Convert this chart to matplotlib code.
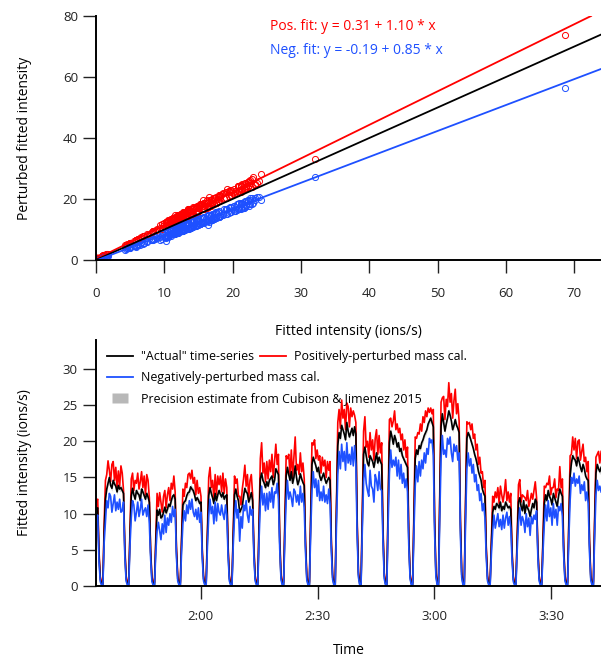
import numpy as np
import matplotlib
matplotlib.use('Agg')
import matplotlib.pyplot as plt
from matplotlib.lines import Line2D

plt.rcParams['font.family'] = ['Open Sans', 'DejaVu Sans']
plt.rcParams['font.size'] = 9.5

RED = '#ff0000'
BLUE = '#1e50ff'

# fit coefficients (intercept, slope) shown on the scatter panel
fit_pos = (0.31, 1.10)
fit_neg = (-0.19, 0.85)
one_to_one = (0.0, 1.0)

# time series (ions/s), one sample every 0.3315 min starting at 1:32.9
T_START = 92.88
SAMPLE_MIN = 0.3315

actual_lead = [11.0, 10.6, 10.8]
pos_lead = [12.2, 11.6, 12.0]
neg_lead = [9.6, 9.2, 9.8]

# one row per switching cycle: the drop to ~0, then the ambient plateau
actual_cycles = [
    [4.2, 0.9, 0.3, 0.2, 7.5, 12.0, 13.4, 14.2, 15.0, 13.9, 13.5, 14.6, 14.1, 13.8, 13.0, 13.9, 13.4, 13.6, 13.2, 12.8],
    [5.0, 1.0, 0.3, 0.2, 7.0, 12.4, 13.5, 12.6, 12.0, 13.2, 12.8, 12.6, 11.8, 13.4, 13.0, 12.5, 12.0, 12.8, 12.3, 11.6],
    [4.6, 0.9, 0.3, 0.2, 5.8, 10.5, 9.8, 10.6, 9.4, 9.6, 10.2, 10.9, 10.1, 10.6, 11.3, 11.0, 11.8, 12.4, 12.6, 12.0],
    [4.8, 1.0, 0.3, 0.2, 6.2, 11.2, 11.6, 11.8, 12.5, 12.9, 13.0, 13.7, 13.4, 13.2, 12.6, 11.8, 12.2, 11.9, 11.4, 11.6],
    [4.6, 1.0, 0.3, 0.2, 6.9, 12.5, 13.6, 12.8, 12.2, 11.4, 12.8, 11.8, 12.6, 13.2, 12.7, 12.3, 12.9, 12.0, 12.4, 12.6],
    [5.0, 1.0, 0.3, 0.2, 7.0, 12.6, 13.4, 12.4, 11.8, 10.2, 10.6, 11.0, 12.4, 13.5, 13.0, 12.8, 11.6, 12.2, 12.9, 11.8],
    [4.8, 1.0, 0.3, 0.2, 8.0, 14.8, 15.6, 14.6, 14.2, 13.6, 14.4, 13.8, 14.6, 14.9, 15.2, 14.0, 14.6, 16.2, 15.8, 15.4],
    [6.2, 1.2, 0.3, 0.2, 8.2, 15.2, 16.4, 15.4, 14.6, 15.8, 14.2, 15.0, 16.6, 15.0, 14.0, 14.6, 15.5, 14.8, 14.3, 13.9],
    [5.6, 1.1, 0.3, 0.2, 9.0, 16.8, 17.8, 17.2, 16.6, 15.8, 16.4, 15.2, 14.6, 15.1, 15.6, 14.8, 14.2, 14.6, 15.0, 14.6],
    [5.8, 1.2, 0.3, 0.2, 10.8, 19.4, 21.2, 20.4, 22.2, 21.6, 21.0, 20.2, 22.6, 21.4, 20.6, 21.2, 21.8, 20.8, 22.0, 21.0],
    [8.4, 1.6, 0.3, 0.2, 9.6, 18.2, 19.2, 18.0, 17.0, 16.6, 18.0, 17.6, 17.2, 16.4, 17.4, 18.4, 17.0, 17.8, 17.2, 16.8],
    [7.4, 1.4, 0.3, 0.2, 10.6, 19.8, 21.4, 20.6, 19.6, 20.8, 20.2, 19.2, 19.8, 18.6, 19.0, 18.0, 17.6, 17.2, 16.8, 16.4],
    [6.6, 1.3, 0.3, 0.2, 9.4, 17.6, 18.8, 18.2, 19.4, 19.0, 19.8, 20.2, 20.8, 21.2, 21.6, 22.4, 22.8, 23.2, 22.6, 22.0],
    [8.8, 1.7, 0.3, 0.2, 11.8, 22.0, 23.8, 22.6, 21.4, 22.4, 23.2, 24.2, 23.6, 22.8, 21.6, 22.2, 23.0, 22.2, 21.8, 21.2],
    [8.4, 1.6, 0.3, 0.2, 11.0, 20.4, 21.2, 20.8, 20.2, 19.6, 19.0, 18.2, 17.6, 16.8, 15.8, 15.2, 14.6, 13.4, 12.8, 12.4],
    [5.0, 1.0, 0.3, 0.2, 5.8, 10.2, 11.0, 10.6, 11.4, 11.2, 10.8, 11.6, 10.4, 11.0, 10.6, 11.6, 11.2, 10.8, 11.0, 10.6],
    [4.4, 0.9, 0.3, 0.2, 6.4, 11.6, 12.2, 11.0, 10.4, 11.8, 10.0, 11.2, 10.8, 10.4, 9.6, 10.6, 11.4, 10.8, 12.0, 11.6],
    [4.8, 1.0, 0.3, 0.2, 6.2, 11.4, 12.6, 11.8, 13.2, 12.4, 12.0, 11.2, 12.8, 12.2, 11.6, 11.0, 12.4, 13.4, 12.8, 12.4],
    [5.0, 1.0, 0.3, 0.2, 8.4, 15.2, 17.0, 18.0, 17.6, 17.4, 16.6, 17.8, 17.2, 16.4, 15.8, 16.8, 16.2, 15.2, 14.8, 14.6],
    [5.8, 1.1, 0.3, 0.2, 8.6, 15.6, 16.8, 16.2, 15.8, 16.4],
]

pos_cycles = [
    [4.8, 1.3, 0.6, 0.5, 8.6, 14.6, 15.4, 17.3, 16.0, 14.4, 16.8, 17.2, 14.6, 16.4, 13.6, 15.9, 13.8, 16.6, 15.6, 13.2],
    [5.6, 1.4, 0.6, 0.5, 7.9, 14.8, 15.6, 13.2, 14.6, 14.2, 15.6, 13.4, 14.4, 15.8, 13.6, 15.2, 12.6, 15.4, 14.6, 12.2],
    [5.0, 1.3, 0.6, 0.5, 6.6, 12.8, 11.0, 12.9, 11.6, 10.2, 12.4, 13.2, 10.8, 12.6, 13.6, 11.8, 14.2, 13.4, 15.2, 13.0],
    [5.4, 1.4, 0.6, 0.5, 7.0, 13.4, 12.4, 14.2, 13.6, 15.4, 15.6, 14.8, 16.0, 14.2, 15.0, 12.6, 14.6, 12.8, 13.6, 12.4],
    [5.2, 1.4, 0.6, 0.5, 7.8, 15.0, 16.4, 13.6, 14.6, 12.0, 15.4, 12.6, 15.2, 14.0, 15.2, 13.0, 15.6, 12.8, 14.8, 13.6],
    [5.6, 1.4, 0.6, 0.5, 7.9, 15.2, 14.2, 14.8, 12.4, 12.4, 11.2, 13.4, 14.8, 16.7, 13.8, 15.4, 12.2, 14.6, 15.4, 12.6],
    [5.4, 1.4, 0.6, 0.5, 9.0, 17.6, 19.8, 15.6, 17.0, 14.4, 17.2, 14.8, 17.4, 15.8, 18.2, 15.0, 17.2, 19.6, 16.8, 18.2],
    [7.0, 1.6, 0.6, 0.5, 9.2, 18.0, 17.6, 18.2, 15.4, 18.8, 15.0, 17.8, 20.6, 16.0, 16.8, 15.4, 18.4, 15.8, 17.0, 14.8],
    [6.2, 1.5, 0.6, 0.5, 10.0, 19.8, 19.5, 20.2, 17.6, 18.8, 17.4, 18.0, 15.6, 17.8, 16.6, 17.4, 15.0, 17.2, 16.0, 17.2],
    [6.4, 1.6, 0.6, 0.5, 12.0, 22.6, 24.4, 21.8, 25.7, 23.2, 24.4, 21.6, 25.3, 24.8, 22.0, 24.6, 23.4, 24.2, 23.6, 22.6],
    [9.4, 2.0, 0.6, 0.5, 10.6, 21.4, 23.4, 19.2, 20.0, 17.8, 21.2, 18.8, 20.2, 17.4, 20.4, 21.6, 18.2, 20.8, 18.4, 19.8],
    [8.2, 1.8, 0.6, 0.5, 11.6, 23.0, 23.2, 22.0, 22.8, 24.2, 21.6, 22.4, 21.2, 21.8, 20.2, 21.0, 18.8, 20.2, 17.8, 19.2],
    [7.4, 1.7, 0.6, 0.5, 10.4, 20.6, 20.4, 21.2, 21.0, 22.4, 21.4, 23.4, 22.6, 24.2, 23.4, 24.6, 24.0, 24.6, 23.8, 24.4],
    [9.8, 2.1, 0.6, 0.5, 13.0, 25.4, 26.0, 26.2, 23.0, 25.8, 24.8, 28.1, 25.4, 26.6, 23.2, 25.6, 27.2, 23.8, 25.2, 22.8],
    [9.4, 2.0, 0.6, 0.5, 12.2, 22.7, 22.4, 22.6, 21.6, 22.4, 20.4, 21.0, 18.8, 19.6, 16.8, 17.8, 15.6, 15.8, 13.6, 14.6],
    [5.6, 1.4, 0.6, 0.5, 6.6, 12.4, 11.6, 13.0, 12.2, 13.6, 11.4, 13.8, 12.6, 11.6, 12.8, 14.7, 11.8, 13.0, 11.6, 12.8],
    [5.0, 1.3, 0.6, 0.5, 7.2, 14.0, 14.7, 11.6, 12.6, 12.4, 12.2, 11.8, 13.2, 11.0, 11.8, 12.8, 12.0, 13.2, 14.4, 12.2],
    [5.4, 1.4, 0.6, 0.5, 7.0, 13.8, 13.6, 14.2, 14.0, 15.2, 12.6, 13.6, 13.6, 14.8, 12.2, 13.4, 13.2, 16.5, 13.6, 14.8],
    [5.6, 1.4, 0.6, 0.5, 9.4, 18.0, 18.2, 20.6, 18.8, 20.4, 17.6, 20.0, 20.2, 17.4, 18.6, 19.6, 17.2, 17.8, 15.8, 17.2],
    [6.4, 1.5, 0.6, 0.5, 9.6, 17.8, 18.2, 18.6, 17.0, 18.6],
]

neg_cycles = [
    [3.4, 0.6, 0.1, 0.0, 6.0, 9.0, 11.8, 10.8, 12.8, 12.4, 10.2, 11.4, 12.6, 10.4, 11.6, 10.6, 12.0, 10.2, 10.4, 11.6],
    [4.2, 0.7, 0.1, 0.0, 5.6, 9.4, 11.8, 11.2, 9.0, 10.2, 11.6, 9.6, 10.6, 12.0, 9.8, 10.4, 10.8, 9.6, 11.2, 8.6],
    [3.8, 0.6, 0.1, 0.0, 4.6, 7.6, 8.8, 7.6, 6.4, 8.6, 7.2, 9.8, 7.4, 9.4, 8.4, 10.0, 8.8, 11.0, 9.6, 10.6],
    [4.0, 0.7, 0.1, 0.0, 4.8, 8.6, 10.4, 9.0, 11.2, 10.0, 11.8, 10.6, 12.0, 10.2, 9.6, 10.6, 9.2, 10.8, 8.8, 10.2],
    [3.8, 0.7, 0.1, 0.0, 5.4, 9.6, 12.0, 10.0, 11.0, 8.6, 11.6, 9.0, 11.4, 10.2, 9.8, 11.2, 10.0, 9.2, 11.2, 9.8],
    [4.2, 0.7, 0.1, 0.0, 5.6, 9.6, 11.8, 9.4, 10.6, 6.2, 9.6, 8.0, 11.2, 10.4, 11.8, 9.8, 8.8, 11.0, 9.8, 10.6],
    [4.0, 0.7, 0.1, 0.0, 6.4, 11.4, 13.8, 11.2, 12.8, 10.4, 12.8, 10.6, 13.0, 11.6, 13.6, 10.8, 13.0, 12.8, 14.2, 12.0],
    [5.2, 0.9, 0.1, 0.0, 6.6, 11.8, 14.6, 12.0, 13.0, 12.2, 11.0, 13.4, 13.0, 11.6, 12.6, 11.2, 13.8, 11.6, 12.8, 10.8],
    [4.6, 0.8, 0.1, 0.0, 7.2, 13.2, 15.8, 13.6, 14.8, 12.4, 14.6, 11.8, 13.0, 11.8, 13.8, 11.6, 12.6, 11.4, 13.4, 11.4],
    [4.8, 0.9, 0.1, 0.0, 8.6, 15.4, 18.6, 16.2, 19.6, 17.2, 18.6, 16.0, 19.8, 17.0, 18.2, 16.8, 19.2, 16.6, 19.4, 16.8],
    [7.0, 1.2, 0.1, 0.0, 7.8, 14.4, 16.8, 14.2, 13.2, 12.4, 16.0, 13.8, 13.4, 11.6, 15.4, 14.6, 13.2, 15.8, 13.4, 13.2],
    [6.2, 1.0, 0.1, 0.0, 8.6, 15.6, 18.8, 16.4, 17.4, 16.6, 17.8, 15.2, 17.4, 14.8, 16.8, 14.2, 15.6, 13.6, 14.8, 13.0],
    [5.6, 1.0, 0.1, 0.0, 7.6, 13.8, 16.6, 14.4, 17.2, 15.2, 17.4, 16.2, 18.4, 17.0, 19.0, 18.2, 20.4, 19.8, 20.2, 18.0],
    [7.4, 1.3, 0.1, 0.0, 9.4, 17.6, 20.8, 18.2, 18.8, 17.8, 20.4, 19.6, 20.6, 18.4, 17.2, 19.6, 18.6, 19.4, 17.4, 18.4],
    [7.0, 1.2, 0.1, 0.0, 8.8, 16.2, 18.4, 16.6, 17.6, 15.6, 16.8, 14.4, 15.4, 13.2, 14.0, 11.8, 12.8, 10.4, 11.4, 9.4],
    [4.0, 0.7, 0.1, 0.0, 4.4, 7.6, 9.8, 8.0, 9.0, 10.0, 8.2, 9.2, 7.8, 9.8, 8.0, 9.4, 10.2, 8.4, 9.6, 8.0],
    [3.6, 0.6, 0.1, 0.0, 5.0, 8.8, 10.8, 8.4, 9.6, 9.0, 7.4, 10.0, 8.2, 9.4, 7.0, 9.6, 8.6, 9.8, 9.2, 10.4],
    [4.0, 0.7, 0.1, 0.0, 4.8, 8.6, 11.2, 9.0, 11.8, 9.6, 10.8, 8.4, 11.4, 9.4, 10.6, 8.4, 11.0, 10.4, 11.4, 9.6],
    [4.2, 0.7, 0.1, 0.0, 6.6, 11.8, 15.0, 14.2, 15.6, 13.8, 14.8, 14.2, 15.2, 12.8, 14.0, 13.2, 14.4, 11.8, 13.0, 11.4],
    [4.6, 0.8, 0.1, 0.0, 6.8, 12.6, 14.6, 13.2, 13.8, 13.0],
]

# points from outside the plotted time window (high-signal events)
extra_actual = [32.1, 68.7]
extra_pos = [33.2, 73.8]
extra_neg = [27.3, 56.5]

precision = 0.4  # ions/s, Cubison & Jimenez 2015 estimate

tick_times = [120, 150, 180, 210]
tick_labels = ['2:00', '2:30', '3:00', '3:30']

actual = np.concatenate([actual_lead] + actual_cycles)
pos = np.concatenate([pos_lead] + pos_cycles)
neg = np.concatenate([neg_lead] + neg_cycles)
t = T_START + SAMPLE_MIN * np.arange(len(actual))

fig = plt.figure(figsize=(6.01, 6.58), dpi=100)
ax1 = fig.add_axes([0.1597, 0.6049, 0.8403, 0.3708])
ax2 = fig.add_axes([0.1597, 0.1094, 0.8403, 0.3739])

for ax in (ax1, ax2):
    ax.spines['top'].set_visible(False)
    ax.spines['right'].set_visible(False)
    ax.spines['left'].set_linewidth(1.4)
    ax.spines['bottom'].set_linewidth(1.4)
    ax.tick_params(direction='out', length=9.5, width=1.0, labelsize=9.5,
                   colors='#222222')

# --- scatter panel
sx = np.concatenate([actual, extra_actual])
ax1.plot(sx, np.concatenate([pos, extra_pos]), 'o', ms=4.4, mfc='none',
         mec=RED, mew=0.7, ls='none')
ax1.plot(sx, np.concatenate([neg, extra_neg]), 'o', ms=4.4, mfc='none',
         mec=BLUE, mew=0.7, ls='none')
ax1.axline((0, fit_pos[0]), slope=fit_pos[1], color=RED, lw=1.3)
ax1.axline((0, one_to_one[0]), slope=one_to_one[1], color='black', lw=1.3)
ax1.axline((0, fit_neg[0]), slope=fit_neg[1], color=BLUE, lw=1.3)
ax1.set_xlim(0, 73.9)
ax1.set_ylim(0, 80)
ax1.set_xticks(np.arange(0, 71, 10))
ax1.set_yticks(np.arange(0, 81, 20))
ax1.tick_params(axis='x', pad=10)
ax1.set_xlabel('Fitted intensity (ions/s)', fontsize=10, labelpad=17)
ax1.set_ylabel('Perturbed fitted intensity', fontsize=10, labelpad=22)
ax1.text(0.345, 0.955, 'Pos. fit: y = %.2f + %.2f * x' % fit_pos,
         color=RED, fontsize=10, transform=ax1.transAxes, va='center')
ax1.text(0.345, 0.86, 'Neg. fit: y = %.2f + %.2f * x' % fit_neg,
         color=BLUE, fontsize=10, transform=ax1.transAxes, va='center')

# --- time series panel
ax2.fill_between(t, actual - precision, actual + precision,
                 color='#d0d0d0', lw=0)
ax2.plot(t, pos, color=RED, lw=1.2)
ax2.plot(t, actual, color='black', lw=1.2)
ax2.plot(t, neg, color=BLUE, lw=1.2)
ax2.set_xlim(93.1, 222.8)
ax2.set_ylim(0, 34)
ax2.set_yticks(np.arange(0, 31, 5))
ax2.set_xticks(tick_times)
ax2.set_xticklabels(tick_labels)
ax2.tick_params(axis='x', pad=8)
ax2.set_xlabel('Time', fontsize=10, labelpad=14)
ax2.set_ylabel('Fitted intensity (ions/s)', fontsize=10, labelpad=22)

h_act = Line2D([], [], color='black', lw=1.3)
h_pos = Line2D([], [], color=RED, lw=1.3)
h_neg = Line2D([], [], color=BLUE, lw=1.3)
rect = [(-1.5, -0.9), (1.5, -0.9), (1.5, 0.9), (-1.5, 0.9), (-1.5, -0.9)]
h_prec = Line2D([], [], marker=rect, ms=11, mfc='#b8b8b8', mec='none',
                ls='none')
leg_kw = dict(frameon=False, fontsize=8.9, handlelength=2.1,
              handletextpad=0.65, borderpad=0, borderaxespad=0,
              labelspacing=0.65, columnspacing=0.5, loc='upper left')
leg1 = ax2.legend([h_act, h_pos], ['"Actual" time-series',
                                    'Positively-perturbed mass cal.'],
                  ncol=2, bbox_to_anchor=(0.022, 0.958), **leg_kw)
ax2.add_artist(leg1)
ax2.legend([h_neg, h_prec], ['Negatively-perturbed mass cal.',
                             'Precision estimate from Cubison & Jimenez 2015'],
           bbox_to_anchor=(0.022, 0.872), **leg_kw)

fig.savefig('out.png', dpi=100)
